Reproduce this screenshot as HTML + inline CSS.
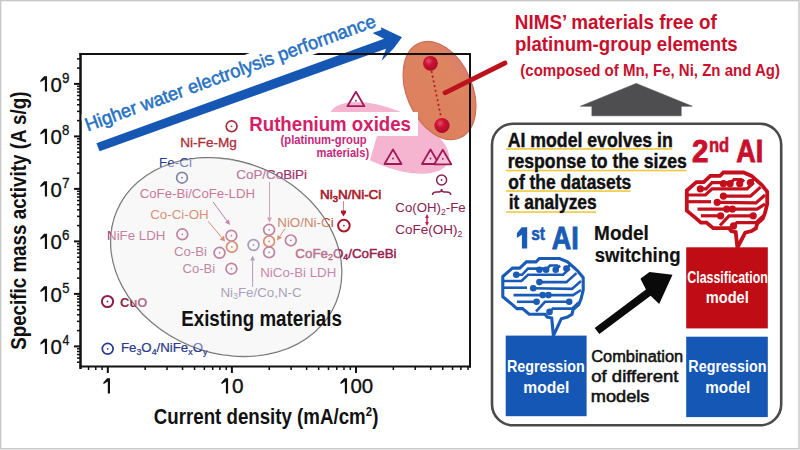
<!DOCTYPE html>
<html><head><meta charset="utf-8"><style>
html,body{margin:0;padding:0;background:#fff;}
svg{display:block;}
text{font-family:"Liberation Sans",sans-serif;white-space:pre;}
</style></head><body>
<svg width="800" height="450" viewBox="0 0 800 450">
<rect x="0" y="0" width="800" height="450" fill="#fff"/>
<rect x="0.6" y="0.6" width="798.4" height="448.2" fill="none" stroke="#c8c8c8" stroke-width="1.5"/>
<ellipse cx="389" cy="137.8" rx="64" ry="28.4" transform="rotate(22.5 389 137.8)" fill="#f5b5d0"/>
<defs><linearGradient id="og" gradientUnits="userSpaceOnUse" x1="425" y1="42" x2="455" y2="139"><stop offset="0" stop-color="#d9787a"/><stop offset="0.3" stop-color="#de845f"/><stop offset="1" stop-color="#dc7e5c"/></linearGradient></defs>
<ellipse cx="439.5" cy="90.5" rx="51.5" ry="32.8" transform="rotate(66.5 439.5 90.5)" fill="url(#og)" stroke="#cc6e5c" stroke-width="1.2"/>
<line x1="431.5" y1="71" x2="441" y2="117" stroke="#a81c22" stroke-width="1.7" stroke-dasharray="2 2.8"/>
<defs><radialGradient id="rb" cx="0.38" cy="0.35" r="0.7"><stop offset="0" stop-color="#e4506a"/><stop offset="0.4" stop-color="#cc1234"/><stop offset="1" stop-color="#a80c28"/></radialGradient></defs>
<circle cx="430.4" cy="63.3" r="7.4" fill="url(#rb)"/>
<circle cx="442" cy="125.5" r="7.6" fill="url(#rb)"/>
<polygon points="96.4,143.3 384,38.8 371.5,32.5 381.5,27.6 402,37.2 394,48 381.5,61 386,48.8 99.6,151.3" fill="#1757b4"/>
<g fill="#111">
<rect x="79.5" y="53" width="391.5" height="2"/>
<rect x="79.5" y="365.5" width="391.5" height="2"/>
<rect x="79.5" y="53" width="2" height="316"/>
<rect x="469" y="53" width="2" height="314.5"/>
<rect x="74" y="345.40" width="6" height="2"/>
<rect x="77" y="361.45" width="3" height="1.5"/>
<rect x="77" y="357.30" width="3" height="1.5"/>
<rect x="77" y="353.78" width="3" height="1.5"/>
<rect x="77" y="350.74" width="3" height="1.5"/>
<rect x="77" y="348.05" width="3" height="1.5"/>
<rect x="74" y="292.90" width="6" height="2"/>
<rect x="77" y="329.85" width="3" height="1.5"/>
<rect x="77" y="320.60" width="3" height="1.5"/>
<rect x="77" y="314.04" width="3" height="1.5"/>
<rect x="77" y="308.95" width="3" height="1.5"/>
<rect x="77" y="304.80" width="3" height="1.5"/>
<rect x="77" y="301.28" width="3" height="1.5"/>
<rect x="77" y="298.24" width="3" height="1.5"/>
<rect x="77" y="295.55" width="3" height="1.5"/>
<rect x="74" y="240.40" width="6" height="2"/>
<rect x="77" y="277.35" width="3" height="1.5"/>
<rect x="77" y="268.10" width="3" height="1.5"/>
<rect x="77" y="261.54" width="3" height="1.5"/>
<rect x="77" y="256.45" width="3" height="1.5"/>
<rect x="77" y="252.30" width="3" height="1.5"/>
<rect x="77" y="248.78" width="3" height="1.5"/>
<rect x="77" y="245.74" width="3" height="1.5"/>
<rect x="77" y="243.05" width="3" height="1.5"/>
<rect x="74" y="187.90" width="6" height="2"/>
<rect x="77" y="224.85" width="3" height="1.5"/>
<rect x="77" y="215.60" width="3" height="1.5"/>
<rect x="77" y="209.04" width="3" height="1.5"/>
<rect x="77" y="203.95" width="3" height="1.5"/>
<rect x="77" y="199.80" width="3" height="1.5"/>
<rect x="77" y="196.28" width="3" height="1.5"/>
<rect x="77" y="193.24" width="3" height="1.5"/>
<rect x="77" y="190.55" width="3" height="1.5"/>
<rect x="74" y="135.40" width="6" height="2"/>
<rect x="77" y="172.35" width="3" height="1.5"/>
<rect x="77" y="163.10" width="3" height="1.5"/>
<rect x="77" y="156.54" width="3" height="1.5"/>
<rect x="77" y="151.45" width="3" height="1.5"/>
<rect x="77" y="147.30" width="3" height="1.5"/>
<rect x="77" y="143.78" width="3" height="1.5"/>
<rect x="77" y="140.74" width="3" height="1.5"/>
<rect x="77" y="138.05" width="3" height="1.5"/>
<rect x="74" y="82.90" width="6" height="2"/>
<rect x="77" y="119.85" width="3" height="1.5"/>
<rect x="77" y="110.60" width="3" height="1.5"/>
<rect x="77" y="104.04" width="3" height="1.5"/>
<rect x="77" y="98.95" width="3" height="1.5"/>
<rect x="77" y="94.80" width="3" height="1.5"/>
<rect x="77" y="91.28" width="3" height="1.5"/>
<rect x="77" y="88.24" width="3" height="1.5"/>
<rect x="77" y="85.55" width="3" height="1.5"/>
<rect x="77" y="67.35" width="3" height="1.5"/>
<rect x="77" y="58.10" width="3" height="1.5"/>
<rect x="106.80" y="367" width="2" height="6"/>
<rect x="230.90" y="367" width="2" height="6"/>
<rect x="355.00" y="367" width="2" height="6"/>
<rect x="87.83" y="367" width="1.5" height="3"/>
<rect x="95.02" y="367" width="1.5" height="3"/>
<rect x="101.37" y="367" width="1.5" height="3"/>
<rect x="144.41" y="367" width="1.5" height="3"/>
<rect x="166.26" y="367" width="1.5" height="3"/>
<rect x="181.77" y="367" width="1.5" height="3"/>
<rect x="193.79" y="367" width="1.5" height="3"/>
<rect x="203.62" y="367" width="1.5" height="3"/>
<rect x="211.93" y="367" width="1.5" height="3"/>
<rect x="219.12" y="367" width="1.5" height="3"/>
<rect x="225.47" y="367" width="1.5" height="3"/>
<rect x="268.51" y="367" width="1.5" height="3"/>
<rect x="290.36" y="367" width="1.5" height="3"/>
<rect x="305.87" y="367" width="1.5" height="3"/>
<rect x="317.89" y="367" width="1.5" height="3"/>
<rect x="327.72" y="367" width="1.5" height="3"/>
<rect x="336.03" y="367" width="1.5" height="3"/>
<rect x="343.22" y="367" width="1.5" height="3"/>
<rect x="349.57" y="367" width="1.5" height="3"/>
<rect x="392.61" y="367" width="1.5" height="3"/>
<rect x="414.46" y="367" width="1.5" height="3"/>
<rect x="429.97" y="367" width="1.5" height="3"/>
<rect x="441.99" y="367" width="1.5" height="3"/>
<rect x="451.82" y="367" width="1.5" height="3"/>
<rect x="460.13" y="367" width="1.5" height="3"/>
<rect x="467.32" y="367" width="1.5" height="3"/>
</g>
<line x1="445" y1="92.8" x2="505" y2="63" stroke="#bb121d" stroke-width="4.8" stroke-linecap="round"/>
<ellipse cx="226.2" cy="257.1" rx="118.7" ry="95.6" transform="rotate(22.7 226.2 257.1)" fill="none" stroke="#666" stroke-width="1.3"/>
<circle cx="231.6" cy="126.3" r="5.4" fill="none" stroke="#a0303e" stroke-width="1.7"/><circle cx="231.6" cy="126.3" r="0.9" fill="#a0303e"/>
<text transform="translate(180.21,147.00) scale(1.0467,1)" fill="#ac2e38" stroke="#ac2e38" stroke-width="0.3"><tspan x="0.00" y="0" font-size="13" font-weight="400">Ni-Fe-Mg</tspan></text>
<text transform="translate(158.92,166.70) scale(1.0390,1)" fill="#2a3a8c" ><tspan x="0.00" y="0" font-size="13" font-weight="400">Fe-Ci</tspan></text>
<circle cx="182" cy="177.7" r="5.4" fill="none" stroke="#3a4278" stroke-width="1.7"/><circle cx="182" cy="177.7" r="0.9" fill="#3a4278"/>
<text transform="translate(139.64,198.40) scale(1.0191,1)" fill="#b42862" ><tspan x="0.00" y="0" font-size="13" font-weight="400">CoFe-Bi/CoFe-LDH</tspan></text>
<line x1="213" y1="201.9" x2="227.04" y2="220.97" stroke="#a23e6e" stroke-width="1"/><polygon points="230,225 225.10,222.40 228.97,219.55" fill="#a23e6e"/>
<text transform="translate(150.13,218.50) scale(1.0287,1)" fill="#cc5224" ><tspan x="0.00" y="0" font-size="13" font-weight="400">Co-Ci-OH</tspan></text>
<line x1="208.1" y1="221.2" x2="221.80" y2="237.66" stroke="#cc5224" stroke-width="1"/><polygon points="225,241.5 219.65,239.45 223.95,235.87" fill="#cc5224"/>
<text transform="translate(107.04,240.30) scale(1.0238,1)" fill="#ab346b" ><tspan x="0.00" y="0" font-size="13" font-weight="400">NiFe LDH</tspan></text>
<circle cx="182.3" cy="234.3" r="5.4" fill="none" stroke="#a23e6e" stroke-width="1.7"/><circle cx="182.3" cy="234.3" r="0.9" fill="#a23e6e"/>
<text transform="translate(174.04,256.20) scale(1.0127,1)" fill="#a23e6e" ><tspan x="0.00" y="0" font-size="13" font-weight="400">Co-Bi</tspan></text>
<text transform="translate(182.55,272.50) scale(1.0031,1)" fill="#a23e6e" ><tspan x="0.00" y="0" font-size="13" font-weight="400">Co-Bi</tspan></text>
<circle cx="231.4" cy="235.7" r="5.4" fill="none" stroke="#a23e6e" stroke-width="1.7"/><circle cx="231.4" cy="235.7" r="0.9" fill="#a23e6e"/>
<circle cx="231.9" cy="246.9" r="5.4" fill="none" stroke="#cc5224" stroke-width="1.7"/><circle cx="231.9" cy="246.9" r="0.9" fill="#cc5224"/>
<circle cx="219.5" cy="252.8" r="5.4" fill="none" stroke="#a23e6e" stroke-width="1.7"/><circle cx="219.5" cy="252.8" r="0.9" fill="#a23e6e"/>
<circle cx="231.4" cy="268.7" r="5.4" fill="none" stroke="#a23e6e" stroke-width="1.7"/><circle cx="231.4" cy="268.7" r="0.9" fill="#a23e6e"/>
<circle cx="253.5" cy="245" r="5.4" fill="none" stroke="#7d6b98" stroke-width="1.7"/><circle cx="253.5" cy="245" r="0.9" fill="#7d6b98"/>
<line x1="252.6" y1="287" x2="252.60" y2="260.50" stroke="#7d6b98" stroke-width="1"/><polygon points="252.6,255.5 255.00,260.50 250.20,260.50" fill="#7d6b98"/>
<text transform="translate(220.43,296.50) scale(1.0273,1)" fill="#7d6b98" ><tspan x="0.00" y="0" font-size="13" font-weight="400">Ni</tspan><tspan x="12.28" y="2.5" font-size="8.5" font-weight="400">3</tspan><tspan x="17.00" y="0" font-size="13" font-weight="400">Fe/Co,N-C</tspan></text>
<text transform="translate(236.33,178.90) scale(1.0306,1)" fill="#9a3068" stroke="#9a3068" stroke-width="0.2"><tspan x="0.00" y="0" font-size="13" font-weight="400">CoP/CoBiPi</tspan></text>
<line x1="269.5" y1="182" x2="269.50" y2="217.50" stroke="#c06a92" stroke-width="1"/><polygon points="269.5,222.5 267.10,217.50 271.90,217.50" fill="#c06a92"/>
<circle cx="269.1" cy="229.8" r="5.4" fill="none" stroke="#a23e6e" stroke-width="1.7"/><circle cx="269.1" cy="229.8" r="0.9" fill="#a23e6e"/>
<circle cx="269.1" cy="241.4" r="5.4" fill="none" stroke="#cc5224" stroke-width="1.7"/><circle cx="269.1" cy="241.4" r="0.9" fill="#cc5224"/>
<circle cx="269.1" cy="252.3" r="5.4" fill="none" stroke="#a23e6e" stroke-width="1.7"/><circle cx="269.1" cy="252.3" r="0.9" fill="#a23e6e"/>
<text transform="translate(277.23,227.20) scale(1.0288,1)" fill="#b44010" ><tspan x="0.00" y="0" font-size="13" font-weight="400">NiO/Ni-Ci</tspan></text>
<line x1="285" y1="228.5" x2="279.77" y2="236.34" stroke="#cc5224" stroke-width="1"/><polygon points="277,240.5 277.61,234.90 281.94,237.78" fill="#cc5224"/>
<circle cx="290.8" cy="240.4" r="5.4" fill="none" stroke="#a23e6e" stroke-width="1.7"/><circle cx="290.8" cy="240.4" r="0.9" fill="#a23e6e"/>
<text transform="translate(260.24,277.00) scale(1.0238,1)" fill="#b43d7d" ><tspan x="0.00" y="0" font-size="13" font-weight="400">NiCo-Bi LDH</tspan></text>
<text transform="translate(295.33,257.70) scale(1.0300,1)" fill="#96204f" stroke="#96204f" stroke-width="0.45"><tspan x="0.00" y="0" font-size="13" font-weight="400">CoFe</tspan><tspan x="31.79" y="2.5" font-size="8.5" font-weight="400">2</tspan><tspan x="36.52" y="0" font-size="13" font-weight="400">O</tspan><tspan x="46.63" y="2.5" font-size="8.5" font-weight="400">4</tspan><tspan x="51.36" y="0" font-size="13" font-weight="400">/CoFeBi</tspan></text>
<circle cx="107.5" cy="301.5" r="5.6" fill="none" stroke="#8e1f4f" stroke-width="2"/><circle cx="107.5" cy="301.5" r="0.9" fill="#8e1f4f"/>
<text transform="translate(119.98,306.50) scale(0.9670,1)" fill="#8e1f4f" ><tspan x="0.00" y="0" font-size="13.5" font-weight="700">CuO</tspan></text>
<circle cx="107.7" cy="348.8" r="5.4" fill="none" stroke="#2a3a8c" stroke-width="1.7"/><circle cx="107.7" cy="348.8" r="0.9" fill="#2a3a8c"/>
<text transform="translate(120.94,352.20) scale(0.9823,1)" fill="#2a3a8c" stroke="#2a3a8c" stroke-width="0.25"><tspan x="0.00" y="0" font-size="13.5" font-weight="400">Fe</tspan><tspan x="15.75" y="3" font-size="9" font-weight="400">3</tspan><tspan x="20.76" y="0" font-size="13.5" font-weight="400">O</tspan><tspan x="31.26" y="3" font-size="9" font-weight="400">4</tspan><tspan x="36.27" y="0" font-size="13.5" font-weight="400">/NiFe</tspan><tspan x="68.52" y="3" font-size="9" font-weight="400">x</tspan><tspan x="73.02" y="0" font-size="13.5" font-weight="400">O</tspan><tspan x="83.52" y="3" font-size="9" font-weight="400">y</tspan></text>
<ellipse cx="226.2" cy="257.1" rx="118.7" ry="95.6" transform="rotate(22.7 226.2 257.1)" fill="#eeeeee" fill-opacity="0.4"/>
<text transform="translate(181.18,325.60) scale(0.8736,1)" fill="#111" ><tspan x="0.00" y="0" font-size="21.5" font-weight="700">Existing materials</tspan></text>
<text transform="translate(320.02,198.90) scale(1.0374,1)" fill="#a8182a" stroke="#a8182a" stroke-width="0.6"><tspan x="0.00" y="0" font-size="13" font-weight="400">Ni</tspan><tspan x="12.28" y="3.2" font-size="9" font-weight="400">3</tspan><tspan x="17.28" y="0" font-size="13" font-weight="400">N/Ni-Ci</tspan></text>
<line x1="343.5" y1="201" x2="343.5" y2="211" stroke="#d88894" stroke-width="1"/><polygon points="341,210.5 346,210.5 346,212.5 343.5,216.5 341,212.5" fill="#b01830"/>
<circle cx="343.9" cy="225.6" r="5.8" fill="none" stroke="#a8182a" stroke-width="2"/><circle cx="343.9" cy="225.6" r="0.9" fill="#a8182a"/>
<circle cx="441.6" cy="180" r="5" fill="none" stroke="#8a2050" stroke-width="1.5"/><circle cx="441.6" cy="180" r="0.9" fill="#8a2050"/>
<path d="M432.5,195 q0,-3 4,-3 h2.5 q2.6,0 2.6,-3 q0,3 2.6,3 h2.5 q4,0 4,3" fill="none" stroke="#8a2050" stroke-width="1.5"/>
<text transform="translate(395.34,212.40) scale(1.0181,1)" fill="#8a2050" ><tspan x="0.00" y="0" font-size="13" font-weight="400">Co(OH)</tspan><tspan x="44.78" y="2.5" font-size="8.5" font-weight="400">2</tspan><tspan x="49.51" y="0" font-size="13" font-weight="400">-Fe</tspan></text>
<text transform="translate(395.33,234.40) scale(1.0379,1)" fill="#8a2050" ><tspan x="0.00" y="0" font-size="13" font-weight="400">CoFe(OH)</tspan><tspan x="59.95" y="2.5" font-size="8.5" font-weight="400">2</tspan></text>
<line x1="427" y1="217" x2="427" y2="223" stroke="#c02050" stroke-width="1.4"/><polygon points="427,214 425,218 429,218" fill="#c02050"/><polygon points="427,226 425,222 429,222" fill="#c02050"/>
<polygon points="246,112 418,112 418,136 377,136 370,160 313,160 313,147 279,147 279,136 246,136" fill="#fff"/>
<text transform="translate(249.29,130.80) scale(0.9567,1)" fill="#d42068" ><tspan x="0.00" y="0" font-size="19.5" font-weight="700">Ruthenium oxides</tspan></text>
<text transform="translate(280.54,143.90) scale(0.9009,1)" fill="#c8287a" ><tspan x="0.00" y="0" font-size="12.5" font-weight="700">(platinum-group</tspan></text>
<text transform="translate(316.48,157.00) scale(0.8920,1)" fill="#c8287a" ><tspan x="0.00" y="0" font-size="12.5" font-weight="700">materials)</tspan></text>
<polygon points="355.9,91.7 347.4,106.2 364.4,106.2" fill="none" stroke="#a01a58" stroke-width="1.8" stroke-linejoin="round"/><circle cx="355.9" cy="100.69" r="0.9" fill="#a01a58"/>
<polygon points="393,149.5 384.5,164.0 401.5,164.0" fill="#f7c3da" stroke="#a01a58" stroke-width="1.8" stroke-linejoin="round"/><circle cx="393" cy="158.49" r="0.9" fill="#a01a58"/>
<polygon points="430.5,149.5 422.0,164.0 439.0,164.0" fill="#f7c3da" stroke="#a01a58" stroke-width="1.8" stroke-linejoin="round"/><circle cx="430.5" cy="158.49" r="0.9" fill="#a01a58"/>
<polygon points="442.8,149.8 434.3,164.3 451.3,164.3" fill="#f7c3da" stroke="#a01a58" stroke-width="1.8" stroke-linejoin="round"/><circle cx="442.8" cy="158.79000000000002" r="0.9" fill="#a01a58"/>
<g transform="translate(87.6,131.5) rotate(-20)"><rect x="-2" y="-18.3" width="313" height="23.3" fill="#fff"/><text transform="translate(0.03,0.00) scale(0.9868,1)" fill="#2872c2" stroke="#2872c2" stroke-width="0.55"><tspan x="0.00" y="0" font-size="18.6" font-weight="400">Higher water electrolysis performance</tspan></text></g>
<rect x="79.5" y="53" width="2" height="316" fill="#111"/>
<text transform="translate(514.87,28.60) scale(0.9330,1)" fill="#c8102e" ><tspan x="0.00" y="0" font-size="20.2" font-weight="700">NIMS’ materials free of</tspan></text>
<text transform="translate(514.89,50.50) scale(0.9240,1)" fill="#c8102e" ><tspan x="0.00" y="0" font-size="20.2" font-weight="700">platinum-group elements</tspan></text>
<text transform="translate(520.35,76.00) scale(0.9277,1)" fill="#c8102e" ><tspan x="0.00" y="0" font-size="16.2" font-weight="700">(composed of Mn, Fe, Ni, Zn and Ag)</tspan></text>
<polygon points="636.2,83.4 692.2,106.2 681.2,106.2 681.2,115.8 591.9,115.8 591.9,106.2 580.5,106.2" fill="#4e4e50" stroke="#4e4e50" stroke-width="0.6" stroke-linejoin="round"/>
<rect x="492" y="123.8" width="289.2" height="301.5" rx="21" ry="21" fill="#fff" stroke="#4a4a4a" stroke-width="2.6"/>
<rect x="506" y="148.15" width="166.5" height="1.6" fill="#efca3c"/>
<rect x="506" y="169.75" width="180.5" height="1.6" fill="#efca3c"/>
<rect x="506" y="190.25" width="124.5" height="1.6" fill="#efca3c"/>
<rect x="506" y="211.25" width="90" height="1.6" fill="#efca3c"/>
<text transform="translate(507.76,147.20) scale(0.8498,1)" fill="#111" stroke="#111" stroke-width="0.45"><tspan x="0.00" y="0" font-size="20.8" font-weight="700">AI model evolves in</tspan></text>
<text transform="translate(507.65,168.20) scale(0.8479,1)" fill="#111" stroke="#111" stroke-width="0.45"><tspan x="0.00" y="0" font-size="20.8" font-weight="700">response to the sizes</tspan></text>
<text transform="translate(508.30,188.80) scale(0.8375,1)" fill="#111" stroke="#111" stroke-width="0.45"><tspan x="0.00" y="0" font-size="20.8" font-weight="700">of the datasets</tspan></text>
<text transform="translate(508.78,208.80) scale(0.8361,1)" fill="#111" stroke="#111" stroke-width="0.45"><tspan x="0.00" y="0" font-size="20.8" font-weight="700">it analyzes</tspan></text>
<text transform="translate(692.06,161.90) scale(0.9543,1)" fill="#c8102e" stroke="#c8102e" stroke-width="0.9"><tspan x="0.00" y="0" font-size="31" font-weight="700">2</tspan></text>
<text transform="translate(708.92,151.90) scale(0.8303,1)" fill="#c8102e" stroke="#c8102e" stroke-width="0.6"><tspan x="0.00" y="0" font-size="20" font-weight="700">nd</tspan></text>
<text transform="translate(736.23,161.90) scale(0.8697,1)" fill="#c8102e" stroke="#c8102e" stroke-width="0.9"><tspan x="0.00" y="0" font-size="31" font-weight="700">AI</tspan></text>
<polygon points="527.2,227.3 527.2,248.6 521.9,248.6 521.9,234.8 516.9,237.9 516.9,233.2 521.6,227.3" fill="#1a5bb5"/>
<text transform="translate(531.15,240.00) scale(0.8430,1)" fill="#1a5bb5" stroke="#1a5bb5" stroke-width="0.6"><tspan x="0.00" y="0" font-size="18.5" font-weight="700">st</tspan></text>
<text transform="translate(551.83,248.80) scale(0.8697,1)" fill="#1a5bb5" stroke="#1a5bb5" stroke-width="0.9"><tspan x="0.00" y="0" font-size="31" font-weight="700">AI</tspan></text>
<text transform="translate(594.07,240.30) scale(0.9260,1)" fill="#111" stroke="#111" stroke-width="0.2"><tspan x="0.00" y="0" font-size="20.5" font-weight="700">Model</tspan></text>
<text transform="translate(594.65,262.30) scale(0.9086,1)" fill="#111" stroke="#111" stroke-width="0.2"><tspan x="0.00" y="0" font-size="20.5" font-weight="700">switching</tspan></text>
<polygon points="594.67,327.88 645.95,289.58 640.43,278.85 649.5,272 672.5,274.8 659.16,303.93 650.62,295.83 599.33,334.12" fill="#0a0a0a"/>
<rect x="686.2" y="247.3" width="81.6" height="81.1" fill="#c00c14"/>
<rect x="686.2" y="336.7" width="81.6" height="80.4" fill="#1457b5"/>
<rect x="505.7" y="335.6" width="80.9" height="80.6" fill="#1457b5"/>
<text transform="translate(687.30,283.30) scale(0.7289,1)" fill="#fff" ><tspan x="0.00" y="0" font-size="17" font-weight="700">Classification</tspan></text>
<text transform="translate(705.75,303.30) scale(0.8604,1)" fill="#fff" ><tspan x="0.00" y="0" font-size="17" font-weight="700">model</tspan></text>
<text transform="translate(688.37,372.20) scale(0.8437,1)" fill="#fff" ><tspan x="0.00" y="0" font-size="17" font-weight="700">Regression</tspan></text>
<text transform="translate(705.20,392.70) scale(0.9022,1)" fill="#fff" ><tspan x="0.00" y="0" font-size="17" font-weight="700">model</tspan></text>
<text transform="translate(506.97,372.20) scale(0.8403,1)" fill="#fff" ><tspan x="0.00" y="0" font-size="17" font-weight="700">Regression</tspan></text>
<text transform="translate(523.28,392.70) scale(0.9211,1)" fill="#fff" ><tspan x="0.00" y="0" font-size="17" font-weight="700">model</tspan></text>
<text transform="translate(591.18,361.80) scale(0.9647,1)" fill="#111" stroke="#111" stroke-width="0.55"><tspan x="0.00" y="0" font-size="17" font-weight="400">Combination</tspan></text>
<text transform="translate(591.26,382.00) scale(1.0894,1)" fill="#111" stroke="#111" stroke-width="0.55"><tspan x="0.00" y="0" font-size="17" font-weight="400">of different</tspan></text>
<text transform="translate(590.82,402.20) scale(1.0692,1)" fill="#111" stroke="#111" stroke-width="0.55"><tspan x="0.00" y="0" font-size="17" font-weight="400">models</tspan></text>
<g transform="translate(684,168)" fill="none" stroke="#c4101c" stroke-linejoin="miter" stroke-miterlimit="3"><path d="M2.8,22.5 L12.4,14.1 L19.7,14.1 L26.4,7.9 L36,7.9 L39.4,4.5 L59.6,4.5 L67.5,7.9 L77.6,16.9 L83.2,23.6 L83.2,36 L81,45 L78.7,50.6 L73.1,55.7 L72,60.2 L67.5,63 L61.3,64.7 L53.4,79.5 L51.7,64.1 L47.2,63 L45,60.2 L29.2,60.2 L22.5,54.6 L16.9,54.6 L12.4,50.6 L2.8,42.7 Z" stroke-width="3.8"/><path d="M16.3,20.8 L22,20.8 L28,14.6 L46.1,14.6" stroke-width="3.2"/><path d="M46.1,15.7 L50,11.5 L58,11.5" stroke-width="3.2"/><path d="M55.7,15.7 L60,11.5" stroke-width="3.2"/><path d="M66.4,14.6 L70,11" stroke-width="3.2"/><path d="M2.8,27 L21.4,27 L28.1,20.8 L63,20.8 L69.7,14.6" stroke-width="3.2"/><path d="M39.4,28.1 L66.4,28.1 L76.5,19.1" stroke-width="3.2"/><path d="M2.8,33.7 L27,33.7" stroke-width="3.2"/><path d="M33.2,34.3 L72,34.9 L81,27" stroke-width="3.2"/><path d="M13.5,41.1 L73.1,41.1 L81,36" stroke-width="3.2"/><path d="M16.9,47.8 L36.6,47.8" stroke-width="3.2"/><path d="M69.2,47.8 L45,47.8 L36,57.5" stroke-width="3.2"/><path d="M49.5,57.9 L52.9,54.6 L72,54.6 L78.7,48.4" stroke-width="3.2"/><circle cx="16.3" cy="20.8" r="3.6" fill="#c4101c" stroke="none"/><circle cx="39.4" cy="15.7" r="3.6" fill="#c4101c" stroke="none"/><circle cx="46.1" cy="15.7" r="3.6" fill="#c4101c" stroke="none"/><circle cx="55.7" cy="15.7" r="3.6" fill="#c4101c" stroke="none"/><circle cx="66.4" cy="14.6" r="3.6" fill="#c4101c" stroke="none"/><circle cx="39.4" cy="28.1" r="3.6" fill="#c4101c" stroke="none"/><circle cx="33.2" cy="34.3" r="3.6" fill="#c4101c" stroke="none"/><circle cx="42.7" cy="41.1" r="3.6" fill="#c4101c" stroke="none"/><circle cx="48.4" cy="41.1" r="3.6" fill="#c4101c" stroke="none"/><circle cx="36.6" cy="47.8" r="3.6" fill="#c4101c" stroke="none"/><circle cx="69.2" cy="47.8" r="3.6" fill="#c4101c" stroke="none"/><circle cx="49.5" cy="57.9" r="3.6" fill="#c4101c" stroke="none"/></g>
<g transform="translate(500,254)" fill="none" stroke="#1a5bb5" stroke-linejoin="miter" stroke-miterlimit="3"><path d="M2.8,22.5 L12.4,14.1 L19.7,14.1 L26.4,7.9 L36,7.9 L39.4,4.5 L59.6,4.5 L67.5,7.9 L77.6,16.9 L83.2,23.6 L83.2,36 L81,45 L78.7,50.6 L73.1,55.7 L72,60.2 L67.5,63 L61.3,64.7 L53.4,81.8 L51.7,64.1 L47.2,63 L45,60.2 L29.2,60.2 L22.5,54.6 L16.9,54.6 L12.4,50.6 L2.8,42.7 Z" stroke-width="3.1"/><path d="M16.3,20.8 L22,20.8 L28,14.6 L46.1,14.6" stroke-width="2.6"/><path d="M46.1,15.7 L50,11.5 L58,11.5" stroke-width="2.6"/><path d="M55.7,15.7 L60,11.5" stroke-width="2.6"/><path d="M66.4,14.6 L70,11" stroke-width="2.6"/><path d="M2.8,27 L21.4,27 L28.1,20.8 L63,20.8 L69.7,14.6" stroke-width="2.6"/><path d="M39.4,28.1 L66.4,28.1 L76.5,19.1" stroke-width="2.6"/><path d="M2.8,33.7 L27,33.7" stroke-width="2.6"/><path d="M33.2,34.3 L72,34.9 L81,27" stroke-width="2.6"/><path d="M13.5,41.1 L73.1,41.1 L81,36" stroke-width="2.6"/><path d="M16.9,47.8 L36.6,47.8" stroke-width="2.6"/><path d="M69.2,47.8 L45,47.8 L36,57.5" stroke-width="2.6"/><path d="M49.5,57.9 L52.9,54.6 L72,54.6 L78.7,48.4" stroke-width="2.6"/><circle cx="16.3" cy="20.8" r="3.3" fill="#1a5bb5" stroke="none"/><circle cx="39.4" cy="15.7" r="3.3" fill="#1a5bb5" stroke="none"/><circle cx="46.1" cy="15.7" r="3.3" fill="#1a5bb5" stroke="none"/><circle cx="55.7" cy="15.7" r="3.3" fill="#1a5bb5" stroke="none"/><circle cx="66.4" cy="14.6" r="3.3" fill="#1a5bb5" stroke="none"/><circle cx="39.4" cy="28.1" r="3.3" fill="#1a5bb5" stroke="none"/><circle cx="33.2" cy="34.3" r="3.3" fill="#1a5bb5" stroke="none"/><circle cx="42.7" cy="41.1" r="3.3" fill="#1a5bb5" stroke="none"/><circle cx="48.4" cy="41.1" r="3.3" fill="#1a5bb5" stroke="none"/><circle cx="36.6" cy="47.8" r="3.3" fill="#1a5bb5" stroke="none"/><circle cx="69.2" cy="47.8" r="3.3" fill="#1a5bb5" stroke="none"/><circle cx="49.5" cy="57.9" r="3.3" fill="#1a5bb5" stroke="none"/></g>
<polygon points="47.05,338.70 47.05,354.10 44.85,354.10 44.85,341.93 40.45,344.86 40.45,342.86 44.15,338.70" fill="#111"/>
<text transform="translate(50.38,354.10) scale(0.9722,1)" fill="#111" stroke="#111" stroke-width="0.35"><tspan x="0.00" y="0" font-size="21" font-weight="400">0</tspan></text>
<text transform="translate(62.45,345.10) scale(0.8769,1)" fill="#111" stroke="#111" stroke-width="0.3"><tspan x="0.00" y="0" font-size="14" font-weight="400">4</tspan></text>
<polygon points="47.05,286.20 47.05,301.60 44.85,301.60 44.85,289.43 40.45,292.36 40.45,290.36 44.15,286.20" fill="#111"/>
<text transform="translate(50.38,301.60) scale(0.9722,1)" fill="#111" stroke="#111" stroke-width="0.35"><tspan x="0.00" y="0" font-size="21" font-weight="400">0</tspan></text>
<text transform="translate(62.18,292.60) scale(0.9323,1)" fill="#111" stroke="#111" stroke-width="0.3"><tspan x="0.00" y="0" font-size="14" font-weight="400">5</tspan></text>
<polygon points="47.05,233.70 47.05,249.10 44.85,249.10 44.85,236.93 40.45,239.86 40.45,237.86 44.15,233.70" fill="#111"/>
<text transform="translate(50.38,249.10) scale(0.9722,1)" fill="#111" stroke="#111" stroke-width="0.35"><tspan x="0.00" y="0" font-size="21" font-weight="400">0</tspan></text>
<text transform="translate(62.03,240.10) scale(0.9524,1)" fill="#111" stroke="#111" stroke-width="0.3"><tspan x="0.00" y="0" font-size="14" font-weight="400">6</tspan></text>
<polygon points="47.05,181.20 47.05,196.60 44.85,196.60 44.85,184.43 40.45,187.36 40.45,185.36 44.15,181.20" fill="#111"/>
<text transform="translate(50.38,196.60) scale(0.9722,1)" fill="#111" stroke="#111" stroke-width="0.35"><tspan x="0.00" y="0" font-size="21" font-weight="400">0</tspan></text>
<text transform="translate(62.02,187.60) scale(0.9733,1)" fill="#111" stroke="#111" stroke-width="0.3"><tspan x="0.00" y="0" font-size="14" font-weight="400">7</tspan></text>
<polygon points="47.05,128.70 47.05,144.10 44.85,144.10 44.85,131.93 40.45,134.86 40.45,132.86 44.15,128.70" fill="#111"/>
<text transform="translate(50.38,144.10) scale(0.9722,1)" fill="#111" stroke="#111" stroke-width="0.35"><tspan x="0.00" y="0" font-size="21" font-weight="400">0</tspan></text>
<text transform="translate(62.11,135.10) scale(0.9422,1)" fill="#111" stroke="#111" stroke-width="0.3"><tspan x="0.00" y="0" font-size="14" font-weight="400">8</tspan></text>
<polygon points="47.05,76.20 47.05,91.60 44.85,91.60 44.85,79.43 40.45,82.36 40.45,80.36 44.15,76.20" fill="#111"/>
<text transform="translate(50.38,91.60) scale(0.9722,1)" fill="#111" stroke="#111" stroke-width="0.35"><tspan x="0.00" y="0" font-size="21" font-weight="400">0</tspan></text>
<text transform="translate(62.10,82.60) scale(0.9524,1)" fill="#111" stroke="#111" stroke-width="0.3"><tspan x="0.00" y="0" font-size="14" font-weight="400">9</tspan></text>
<polygon points="110.00,378.30 110.00,393.40 107.80,393.40 107.80,381.47 103.40,384.34 103.40,382.38 107.10,378.30" fill="#111"/>
<polygon points="228.10,378.20 228.10,393.40 225.90,393.40 225.90,381.39 221.50,384.28 221.50,382.30 225.20,378.20" fill="#111"/>
<text transform="translate(231.97,393.40) scale(0.9921,1)" fill="#111" stroke="#111" stroke-width="0.35"><tspan x="0.00" y="0" font-size="21" font-weight="400">0</tspan></text>
<polygon points="347.05,378.20 347.05,393.40 344.85,393.40 344.85,381.39 340.45,384.28 340.45,382.30 344.15,378.20" fill="#111"/>
<text transform="translate(350.38,393.40) scale(0.9754,1)" fill="#111" stroke="#111" stroke-width="0.35"><tspan x="0.00" y="0" font-size="21" font-weight="400">00</tspan></text>
<text transform="translate(153.75,423.50) scale(0.8428,1)" fill="#111" ><tspan x="0.00" y="0" font-size="22.2" font-weight="700">Current density (mA/cm</tspan><tspan x="251.65" y="-7.5" font-size="13.5" font-weight="700">2</tspan><tspan x="259.16" y="0" font-size="22.2" font-weight="700">)</tspan></text>
<g transform="translate(26.3,349.3) rotate(-90)"><text transform="translate(-0.56,0.00) scale(0.8356,1)" fill="#111" ><tspan x="0.00" y="0" font-size="22.5" font-weight="700">Specific mass activity (A s/g)</tspan></text></g>
</svg>
</body></html>
